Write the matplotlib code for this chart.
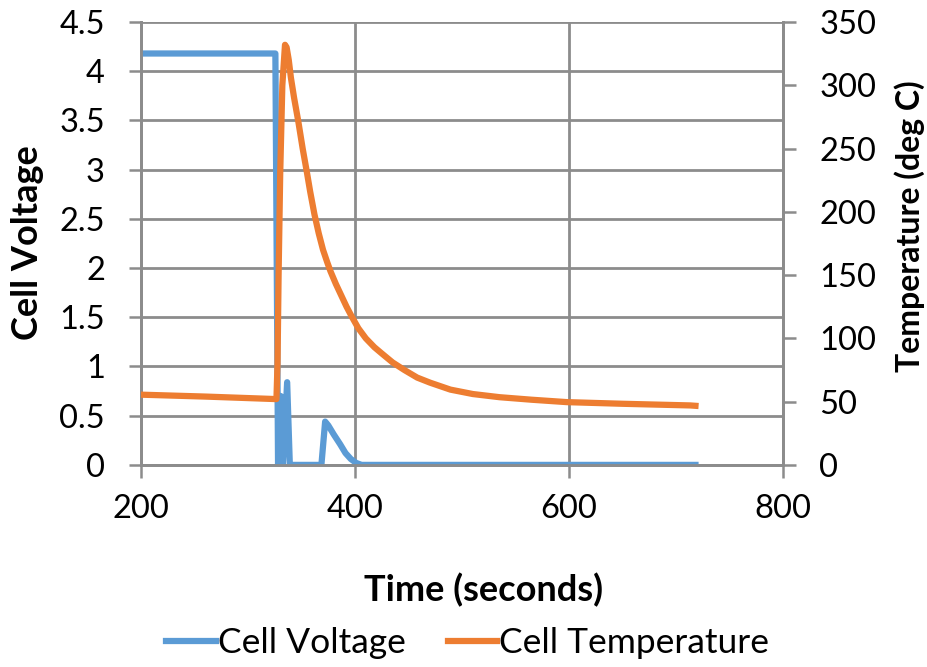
import matplotlib.pyplot as plt
import numpy as np

# Values.
VOLT_T = [200, 325.5, 328, 330.5, 332.5, 336.5, 339, 368.5, 372, 375, 380, 386, 391, 396,
          401, 406, 718]
VOLT_V = [4.18, 4.18, 0.0, 0.7, 0.0, 0.84, 0.0, 0.0, 0.44, 0.40, 0.31, 0.21, 0.12, 0.06,
          0.02, 0.0, 0.0]

TEMP_T = [200, 260, 326.5, 327.5, 328.5, 330, 332, 334.5, 336, 338, 340, 343, 347, 351, 355,
          358, 362, 366, 370, 374, 377, 382, 387, 392, 397, 403, 410, 418, 425, 435, 446,
          458, 470, 489, 510, 535, 565, 598, 650, 713, 718]
TEMP_V = [55.5, 54, 52, 80, 150, 230, 300, 332, 330, 320, 306, 290, 271, 250, 231,
          216, 198, 183, 170, 160, 153, 143, 134, 125, 117, 108, 100, 93, 88, 81, 75,
          69, 65, 59.5, 56, 53.5, 51.5, 49.6, 48.3, 47, 46.7]

BLUE = "#5B9BD5"
ORANGE = "#ED7D31"
GRID = "#8C8C8C"


def main():
    plt.rcParams["font.family"] = ["Lato", "DejaVu Sans"]
    fig = plt.figure(figsize=(9.28, 6.67), dpi=100)
    ax = fig.add_axes([0.152, 0.303, 0.692, 0.664])
    ax2 = ax.twinx()

    lv, = ax.plot(VOLT_T, VOLT_V, color=BLUE, lw=4.5, solid_joinstyle="round",
                  label="Cell Voltage", zorder=3)
    lt, = ax2.plot(TEMP_T, TEMP_V, color=ORANGE, lw=4.5, solid_joinstyle="round",
                   label="Cell Temperature", zorder=3)

    ax.set_xlim(200, 800)
    ax.set_ylim(0, 4.5)
    ax2.set_ylim(0, 350)
    ax.set_xticks([200, 400, 600, 800])
    ax.set_yticks(np.arange(0, 4.51, 0.5))
    ax.set_yticklabels(["0", "0.5", "1", "1.5", "2", "2.5", "3", "3.5", "4", "4.5"])
    ax2.set_yticks(np.arange(0, 351, 50))

    ax.grid(True, color=GRID, lw=2)
    ax.set_axisbelow(True)
    for a in (ax, ax2):
        for s in a.spines.values():
            s.set_color(GRID)
            s.set_linewidth(2)
        a.spines["top"].set_visible(False)
        a.tick_params(colors=GRID, labelcolor="black", labelsize=23.5, width=1.8,
                      length=9, pad=17)
    ax.tick_params(axis="x", pad=12)

    fig.text(0.030, 0.636, "Cell Voltage", rotation=90, ha="center", va="center",
             fontsize=26, fontweight="bold")
    fig.text(0.980, 0.661, "Temperature (deg C)", rotation=90, ha="center", va="center",
             fontsize=23, fontweight="bold")
    fig.text(0.521, 0.115, "Time (seconds)", ha="center", va="center",
             fontsize=26, fontweight="bold")

    fig.legend(handles=[lv, lt], loc="center", bbox_to_anchor=(0.504, 0.036),
               ncol=2, frameon=False, fontsize=25.5, handlelength=1.4,
               handletextpad=0.05, columnspacing=1.2, borderpad=0, borderaxespad=0)

    fig.savefig("out.png", dpi=100, facecolor="white")


if __name__ == "__main__":
    main()
